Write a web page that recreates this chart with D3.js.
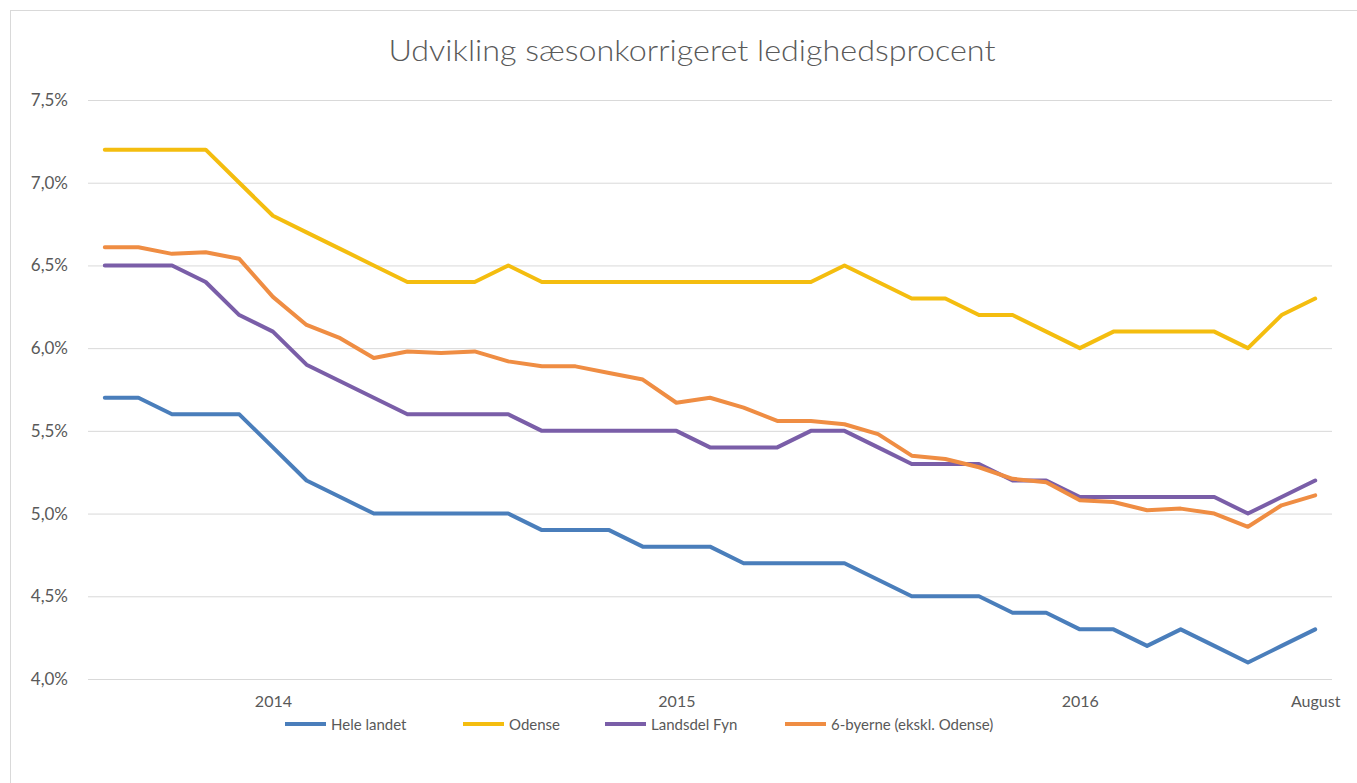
<!DOCTYPE html>
<html>
<head>
<meta charset="utf-8">
<script src="https://cdn.jsdelivr.net/npm/d3@7"></script>
<style>
  body { margin: 0; background: #fff; }
  svg { display: block; }
  text { font-family: Lato, "Open Sans", sans-serif; fill: #595959; }
</style>
</head>
<body>
<svg id="chart" width="1357" height="783"></svg>
<script>
// Months Aug 2013 .. Aug 2016
const months = ["2013-08","2013-09","2013-10","2013-11","2013-12",
  "2014-01","2014-02","2014-03","2014-04","2014-05","2014-06","2014-07","2014-08","2014-09","2014-10","2014-11","2014-12",
  "2015-01","2015-02","2015-03","2015-04","2015-05","2015-06","2015-07","2015-08","2015-09","2015-10","2015-11","2015-12",
  "2016-01","2016-02","2016-03","2016-04","2016-05","2016-06","2016-07","2016-08"];
const tickLabels = {"2014-01":"2014","2015-01":"2015","2016-01":"2016","2016-08":"August"};
const yTicks = [4.0,4.5,5.0,5.5,6.0,6.5,7.0,7.5];

const heleLandet = [5.7,5.7,5.6,5.6,5.6,5.4,5.2,5.1,5.0,5.0,5.0,5.0,5.0,4.9,4.9,4.9,4.8,4.8,4.8,4.7,4.7,4.7,4.7,4.6,4.5,4.5,4.5,4.4,4.4,4.3,4.3,4.2,4.3,4.2,4.1,4.2,4.3];
const odense = [7.2,7.2,7.2,7.2,7.0,6.8,6.7,6.6,6.5,6.4,6.4,6.4,6.5,6.4,6.4,6.4,6.4,6.4,6.4,6.4,6.4,6.4,6.5,6.4,6.3,6.3,6.2,6.2,6.1,6.0,6.1,6.1,6.1,6.1,6.0,6.2,6.3];
const landsdelFyn = [6.5,6.5,6.5,6.4,6.2,6.1,5.9,5.8,5.7,5.6,5.6,5.6,5.6,5.5,5.5,5.5,5.5,5.5,5.4,5.4,5.4,5.5,5.5,5.4,5.3,5.3,5.3,5.2,5.2,5.1,5.1,5.1,5.1,5.1,5.0,5.1,5.2];
const seksByerne = [6.61,6.61,6.57,6.58,6.54,6.31,6.14,6.06,5.94,5.98,5.97,5.98,5.92,5.89,5.89,5.85,5.81,5.67,5.70,5.64,5.56,5.56,5.54,5.48,5.35,5.33,5.28,5.21,5.19,5.08,5.07,5.02,5.03,5.00,4.92,5.05,5.11];

const seriesNames = ["Hele landet","Odense","Landsdel Fyn","6-byerne (ekskl. Odense)"];
const seriesColors = ["#4a7ebb","#f4bd0f","#7a5ea8","#ef8d43"];
const seriesData = [heleLandet, odense, landsdelFyn, seksByerne];

const svg = d3.select("#chart");
const W = 1357, H = 783;

// outer chart border
svg.append("rect").attr("x", 10.5).attr("y", 10.5).attr("width", W - 10).attr("height", H - 10)
  .attr("fill", "none").attr("stroke", "#d9d9d9").attr("stroke-width", 1);

const plot = {left: 88, right: 1332, top: 100, bottom: 679};

const x = d3.scalePoint().domain(months).range([plot.left, plot.right]).padding(0.5);
const y = d3.scaleLinear().domain([4.0, 7.5]).range([plot.bottom, plot.top]);

// title
svg.append("text").attr("x", 692).attr("y", 61).attr("text-anchor", "middle")
  .style("font-size", "29px").style("font-weight", 300)
  .attr("textLength", 607).attr("lengthAdjust", "spacingAndGlyphs")
  .text("Udvikling sæsonkorrigeret ledighedsprocent");

// y gridlines + labels
const fmt = v => v.toFixed(1).replace(".", ",") + "%";
const yAxis = d3.axisLeft(y).tickValues(yTicks).tickSize(-(plot.right - plot.left)).tickFormat(fmt).tickPadding(20);
const gy = svg.append("g").attr("transform", `translate(${plot.left},0)`).call(yAxis);
gy.select(".domain").remove();
gy.selectAll(".tick line").attr("stroke", "#d9d9d9").attr("stroke-width", 1);
gy.selectAll(".tick text").style("font-size", "17px").style("font-family", "Lato, sans-serif").attr("fill", "#595959");

// x axis labels
const xAxis = d3.axisBottom(x).tickValues(Object.keys(tickLabels)).tickFormat(d => tickLabels[d]).tickSize(0).tickPadding(17);
const gx = svg.append("g").attr("transform", `translate(0,${plot.bottom})`).call(xAxis);
gx.select(".domain").remove();
gx.selectAll(".tick text").style("font-size", "16px").style("font-family", "Lato, sans-serif").attr("fill", "#595959");

// lines
const line = d3.line().x((d, i) => x(months[i])).y(d => y(d));
seriesData.forEach((data, k) => {
  svg.append("path").datum(data).attr("d", line)
    .attr("fill", "none").attr("stroke", seriesColors[k]).attr("stroke-width", 4)
    .attr("stroke-linejoin", "round").attr("stroke-linecap", "round");
});

// legend
const legendX = [285, 463, 605, 785];
const legendY = 724;
const lg = svg.append("g");
seriesNames.forEach((name, k) => {
  lg.append("line").attr("x1", legendX[k]).attr("x2", legendX[k] + 41)
    .attr("y1", legendY).attr("y2", legendY)
    .attr("stroke", seriesColors[k]).attr("stroke-width", 4);
  lg.append("text").attr("x", legendX[k] + 46).attr("y", legendY + 6)
    .style("font-size", "15px").text(name);
});
</script>
</body>
</html>
